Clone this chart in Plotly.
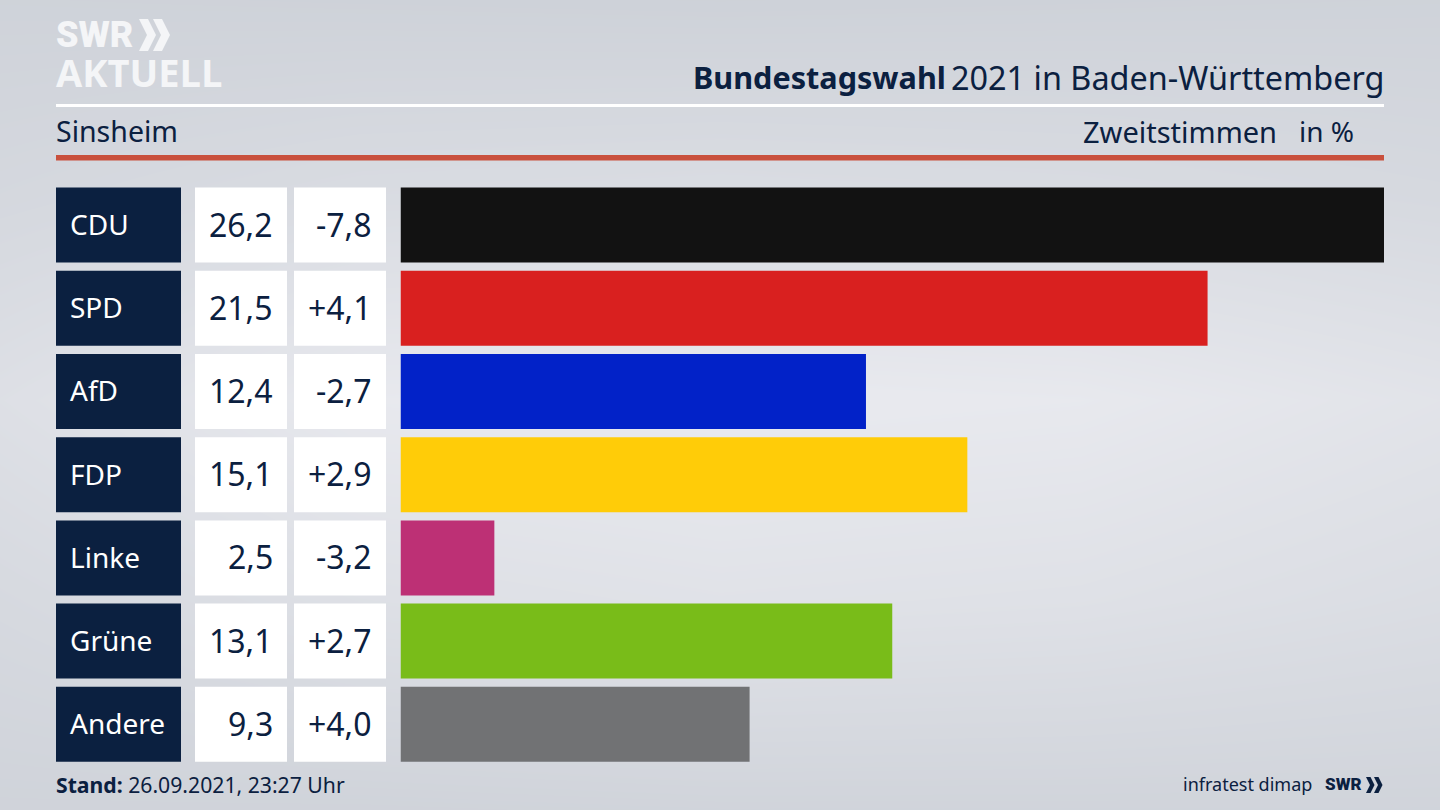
import plotly.graph_objects as go

W, H = 1440, 810
FONT = "Noto Sans"
LOGO_FONT = "Roboto"
NAVY = "#0b2040"
LOGO_WHITE = "#f4f5f7"

parties = ["CDU", "SPD", "AfD", "FDP", "Linke", "Grüne", "Andere"]
shares = [26.2, 21.5, 12.4, 15.1, 2.5, 13.1, 9.3]
changes = ["-7,8", "+4,1", "-2,7", "+2,9", "-3,2", "+2,7", "+4,0"]
share_labels = ["26,2", "21,5", "12,4", "15,1", "2,5", "13,1", "9,3"]
colors = ["#121212", "#d9201f", "#0222c8", "#ffcc08", "#bd3075", "#79bc19", "#717274"]

# background shading, light level per grid point
bg_x = [0, 360, 720, 1080, 1440]
bg_y = [0, 200, 400, 600, 810]
bg_z = [
    [0.10, 0.08, 0.06, 0.08, 0.10],
    [0.30, 0.45, 0.50, 0.45, 0.35],
    [0.60, 0.95, 1.00, 0.95, 0.75],
    [0.35, 0.60, 0.70, 0.65, 0.50],
    [0.12, 0.12, 0.15, 0.15, 0.15],
]

ROW_STEP = 83.2
ROWS_TOP = 225.1 - ROW_STEP / 2
ROWS_BOTTOM = ROWS_TOP + ROW_STEP * 7


def px(x):
    return x / W


def py(y):
    return 1 - y / H


def label(x, y, text, size=30, color=NAVY, anchor="left", family=FONT, weight=None):
    font = dict(family=family, size=size, color=color)
    if weight:
        font["weight"] = weight
    return dict(
        x=px(x), y=py(y), xref="paper", yref="paper", text=text, showarrow=False,
        xanchor=anchor, yanchor="middle", align=anchor, font=font,
    )


def chevrons(x, top, bottom, color, width, gap):
    # two ">" shapes for the SWR logo
    mid = (top + bottom) / 2
    arm = (bottom - top) / 2
    out = []
    for i in range(2):
        x0 = x + i * gap
        path = (
            f"M {px(x0)} {py(top)} L {px(x0 + width)} {py(top)} "
            f"L {px(x0 + width + arm * 0.5)} {py(mid)} L {px(x0 + width)} {py(bottom)} "
            f"L {px(x0)} {py(bottom)} L {px(x0 + arm * 0.5)} {py(mid)} Z"
        )
        out.append(dict(type="path", path=path, xref="paper", yref="paper",
                        fillcolor=color, line_width=0))
    return out


fig = go.Figure()

# first subplot is painted first, so the background has to live on x/y
fig.add_trace(go.Heatmap(
    x=bg_x, y=bg_y, z=bg_z, xaxis="x", yaxis="y", zsmooth="best", showscale=False,
    hoverinfo="skip", zmin=0, zmax=1,
    colorscale=[[0, "#ccd0d7"], [1, "#e9eaef"]],
))

# party box, share box, change box, then the real bars
fig.add_trace(go.Bar(x=[1] * 7, y=parties, orientation="h", xaxis="x2", yaxis="y2",
                     marker=dict(color=NAVY, line_width=0), hoverinfo="skip"))
fig.add_trace(go.Bar(x=[1] * 7, y=parties, orientation="h", xaxis="x3", yaxis="y2",
                     marker=dict(color="white", line_width=0), hoverinfo="skip"))
fig.add_trace(go.Bar(x=[1] * 7, y=parties, orientation="h", xaxis="x4", yaxis="y2",
                     marker=dict(color="white", line_width=0), hoverinfo="skip"))
fig.add_trace(go.Bar(x=shares, y=parties, orientation="h", xaxis="x5", yaxis="y2",
                     marker=dict(color=colors, line_width=0)))

annotations = []
for i, party in enumerate(parties):
    cy = 224 + i * ROW_STEP
    annotations.append(label(68, cy, party, size=28, color="white"))
    annotations.append(label(274.5, cy, share_labels[i], size=32, anchor="right"))
    annotations.append(label(374, cy, changes[i], size=32, anchor="right"))

annotations += [
    label(691, 77, "<b>Bundestagswahl</b>", size=30.6),
    label(1386, 77, "2021 in Baden-Württemberg", size=32.4, anchor="right"),
    label(54, 131, "Sinsheim", size=28.5),
    label(1279, 131, "Zweitstimmen", size=29, anchor="right"),
    label(1356, 131, "in %", size=28, anchor="right"),
    label(54, 784, "<b>Stand:</b> 26.09.2021, 23:27 Uhr", size=21.2),
    label(1314, 784, "infratest dimap", size=18, anchor="right"),
    label(1364, 784, "SWR", size=17, anchor="right", family=LOGO_FONT, weight=900),
    label(54, 35, "SWR", size=36, color=LOGO_WHITE, family=LOGO_FONT, weight=900),
    label(54, 72, "AKTUELL", size=38, color=LOGO_WHITE, family="Open Sans", weight=700),
]

shapes = [
    dict(type="rect", xref="paper", yref="paper", x0=px(56), x1=px(1384), y0=py(104), y1=py(107),
         fillcolor="white", line_width=0),
    dict(type="rect", xref="paper", yref="paper", x0=px(56), x1=px(1384), y0=py(155), y1=py(160.5),
         fillcolor="#c9503d", line_width=0),
]
shapes += chevrons(139, 19, 51, LOGO_WHITE, 9, 14)
shapes += chevrons(1366, 777, 793, NAVY, 4.5, 8)

hidden = dict(visible=False, fixedrange=True)
fig.update_layout(
    width=W, height=H, margin=dict(l=0, r=0, t=0, b=0),
    paper_bgcolor="#d8dae0", plot_bgcolor="rgba(0,0,0,0)",
    showlegend=False, barmode="overlay", bargap=0.0986,
    font=dict(family=FONT, color=NAVY),
    xaxis=dict(domain=[0, 1], range=[0, W], anchor="y", **hidden),
    yaxis=dict(domain=[0, 1], range=[H, 0], anchor="x", **hidden),
    xaxis2=dict(domain=[px(56), px(181)], range=[0, 1], anchor="y2", **hidden),
    xaxis3=dict(domain=[px(195), px(287)], range=[0, 1], anchor="y2", **hidden),
    xaxis4=dict(domain=[px(294), px(386)], range=[0, 1], anchor="y2", **hidden),
    xaxis5=dict(domain=[px(400.5), px(1384)], range=[0, 26.2], anchor="y2", **hidden),
    yaxis2=dict(domain=[py(ROWS_BOTTOM), py(ROWS_TOP)], autorange="reversed", categoryorder="array",
                categoryarray=parties, anchor="x5", **hidden),
    annotations=annotations,
    shapes=shapes,
)

fig.write_html("out.html", config={"displayModeBar": False},
               post_script="document.body.style.margin='0';")
